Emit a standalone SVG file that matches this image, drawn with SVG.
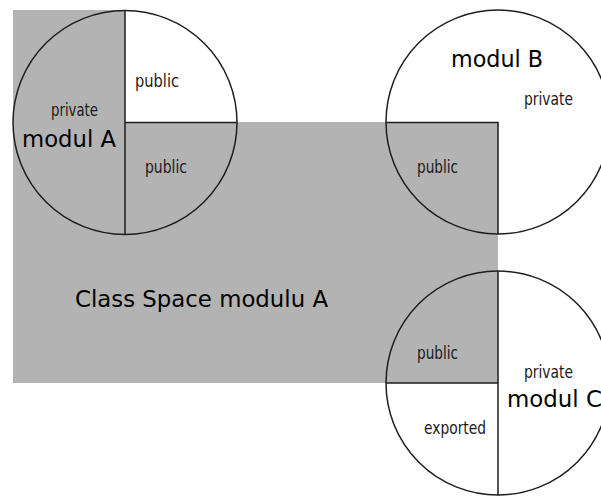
<svg xmlns="http://www.w3.org/2000/svg" width="601" height="496" viewBox="0 0 601 496">
  <style>
    .space { fill: #b3b3b3; stroke: none; }
    .ring { fill: none; stroke: #1e1e1e; stroke-width: 1.5; }
    .split { stroke: #1e1e1e; stroke-width: 1.5; fill: none; }
    .small { font-family: "DejaVu Sans Condensed", "DejaVu Sans", sans-serif; font-size: 17px; fill: #1a1a1a; }
    .big { font-family: "DejaVu Sans", sans-serif; font-size: 23px; fill: #000; }
  </style>
  <rect width="601" height="496" fill="#fff"/>

  <!-- class space of module A -->
  <g id="class-space-a">
    <polygon class="space" points="13,10 125,10 125,122 498,122 498,383 13,383"/>
    <text class="big" x="75" y="307" textLength="253" lengthAdjust="spacingAndGlyphs">Class Space modulu A</text>
  </g>

  <!-- module A -->
  <g id="modul-a">
    <circle class="ring" cx="125" cy="122.5" r="112"/>
    <path class="split" d="M125,10.5 V234.5 M125,122.5 H237"/>
    <text class="small" x="135" y="87" textLength="44" lengthAdjust="spacingAndGlyphs">public</text>
    <text class="small" x="51" y="116" textLength="47" lengthAdjust="spacingAndGlyphs">private</text>
    <text class="big" x="22" y="147" textLength="94" lengthAdjust="spacingAndGlyphs">modul A</text>
    <text class="small" x="145" y="173" textLength="42" lengthAdjust="spacingAndGlyphs">public</text>
  </g>

  <!-- module B -->
  <g id="modul-b">
    <circle class="ring" cx="498" cy="122" r="112"/>
    <path class="split" d="M386,122.5 H498 V234"/>
    <text class="big" x="451" y="67" textLength="92" lengthAdjust="spacingAndGlyphs">modul B</text>
    <text class="small" x="524" y="105" textLength="49" lengthAdjust="spacingAndGlyphs">private</text>
    <text class="small" x="417" y="173" textLength="41" lengthAdjust="spacingAndGlyphs">public</text>
  </g>

  <!-- module C -->
  <g id="modul-c">
    <circle class="ring" cx="498" cy="383" r="112"/>
    <path class="split" d="M498,271 V495 M386,383 H498"/>
    <text class="small" x="417" y="359" textLength="41" lengthAdjust="spacingAndGlyphs">public</text>
    <text class="small" x="524" y="378" textLength="49" lengthAdjust="spacingAndGlyphs">private</text>
    <text class="big" x="507" y="407" textLength="95" lengthAdjust="spacingAndGlyphs">modul C</text>
    <text class="small" x="424" y="434" textLength="62" lengthAdjust="spacingAndGlyphs">exported</text>
  </g>
</svg>
